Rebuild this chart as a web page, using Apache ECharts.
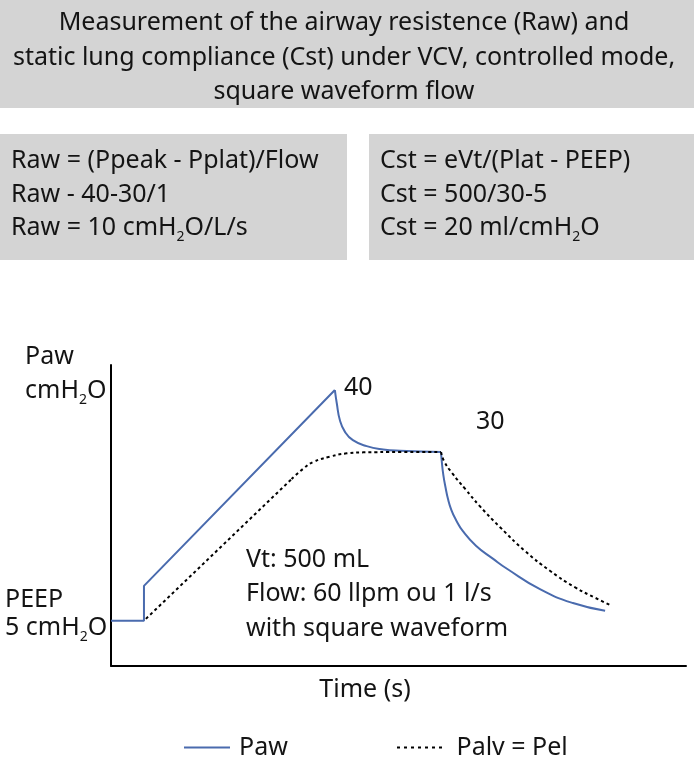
<!DOCTYPE html>
<html><head><meta charset="utf-8">
<script src="https://cdn.jsdelivr.net/npm/echarts@6/dist/echarts.min.js"></script>
<style>html,body{margin:0;padding:0;background:#fff}#c{width:694px;height:760px}</style>
</head><body><div id="c"></div>
<script>
// ---- text content ----
const titleLines = ['Measurement of the airway resistence (Raw) and', 'static lung compliance (Cst) under VCV, controlled mode,', 'square waveform flow'];
const rawLines = ['Raw = (Ppeak - Pplat)/Flow', 'Raw - 40-30/1', 'Raw = 10 cmH{sub|2}O/L/s'];
const cstLines = ['Cst = eVt/(Plat - PEEP)', 'Cst = 500/30-5', 'Cst = 20 ml/cmH{sub|2}O'];
const noteLines = ['Vt: 500 mL', 'Flow: 60 llpm ou 1 l/s', 'with square waveform'];
const yAxisLabel = ['Paw', 'cmH{sub|2}O'];
const peepLabel = ['PEEP', '5 cmH{sub|2}O'];
const peakLabel = '40';
const plateauLabel = '30';
const xAxisLabel = 'Time (s)';
const seriesNames = ['Paw', 'Palv = Pel'];
// ---- data: [time (s), pressure (cmH2O)] ----
const pawRise = [[0, 5], [0.086, 5], [0.086, 10.3], [0.584, 40]];
const pawPause = [[0.584, 40], [0.589, 38.0], [0.597, 35.45], [0.610, 33.7], [0.631, 32.4], [0.667, 31.5], [0.710, 31.0], [0.754, 30.8], [0.861, 30.6]];
const pawExp = [[0.861, 30.6], [0.863, 29.1], [0.867, 27.1], [0.873, 25.15], [0.879, 23.5], [0.888, 21.8], [0.900, 20.3], [0.918, 18.6], [0.952, 16.4], [0.997, 14.4], [1.033, 12.9], [1.119, 9.8], [1.205, 7.7], [1.289, 6.54]];
const palvRise = [[0.091, 5.3], [0.471, 26.5]];
const palvBend = [[0.471, 26.5], [0.502, 28.1], [0.528, 29.1], [0.571, 29.9], [0.615, 30.4], [0.658, 30.55], [0.754, 30.6], [0.861, 30.6]];
const palvExp = [[0.861, 30.6], [0.869, 29.2], [0.890, 27.4], [0.924, 25.0], [0.962, 22.4], [1.015, 19.2], [1.080, 15.6], [1.145, 12.6], [1.210, 10.1], [1.263, 8.5], [1.302, 7.4]];

const FONT = 'Noto Sans';
const FS = 25;
const BLUE = '#4a6bae';
const GRAY = '#d4d4d4';
const INK = '#141414';

const rich = { sub: { fontSize: 14, fontFamily: FONT, fill: INK, padding: [18, 0, 0, 0] } };
function txt(text, x, y, align) {
  return { type: 'text', x: x, y: y, silent: true,
    style: { text: text, fontSize: FS, fontFamily: FONT, fill: INK, align: align || 'left', verticalAlign: 'middle', rich: rich } };
}
const graphics = [
  { type: 'rect', shape: { x: 0, y: 0, width: 694, height: 108 }, style: { fill: GRAY }, silent: true },
  { type: 'rect', shape: { x: 0, y: 134, width: 347, height: 126 }, style: { fill: GRAY }, silent: true },
  { type: 'rect', shape: { x: 369, y: 134, width: 325, height: 126 }, style: { fill: GRAY }, silent: true }
];
titleLines.forEach((t, i) => graphics.push(txt(t, 344, 23 + i * 34.5, 'center')));
rawLines.forEach((t, i) => graphics.push(txt(t, 11, 161 + i * 33.5)));
cstLines.forEach((t, i) => graphics.push(txt(t, 380, 161 + i * 33.5)));
noteLines.forEach((t, i) => graphics.push(txt(t, 246, 559.5 + i * 34.5)));
graphics.push(txt(yAxisLabel[0], 25, 357));
graphics.push(txt(yAxisLabel[1], 25, 391));
graphics.push(txt(peepLabel[0], 5, 600));
graphics.push(txt(peepLabel[1], 5, 628));
graphics.push(txt(peakLabel, 344, 388));
graphics.push(txt(plateauLabel, 476, 422));
graphics.push(txt(xAxisLabel, 365, 690, 'center'));

function lineSeries(name, data, color, type, smooth) {
  return { type: 'line', name: name, data: data, showSymbol: false, symbol: 'none', smooth: smooth ? 0.5 : false,
    silent: true, animation: false,
    lineStyle: { color: color, width: 2, type: type }, itemStyle: { color: color } };
}
const dotIcon = 'path://M0,0h3v2h-3zM7,0h3v2h-3zM14,0h3v2h-3zM21,0h3v2h-3zM28,0h3v2h-3zM35,0h3v2h-3zM42,0h3v2h-3z';
const lineIcon = 'path://M0,0h46v2h-46z';

const chart = echarts.init(document.getElementById('c'), null, { renderer: 'canvas' });
chart.setOption({
  animation: false,
  backgroundColor: '#fff',
  grid: { left: 111, right: 8, top: 365, bottom: 94.3 },
  xAxis: { type: 'value', min: 0, max: 1.5, axisLine: { onZero: false, lineStyle: { color: '#000', width: 2 } },
    axisTick: { show: false }, axisLabel: { show: false }, splitLine: { show: false } },
  yAxis: { type: 'value', min: -1.8, max: 43.8, axisLine: { show: true, onZero: false, lineStyle: { color: '#000', width: 2 } },
    axisTick: { show: false }, axisLabel: { show: false }, splitLine: { show: false } },
  legend: [
    { data: [seriesNames[0]], icon: lineIcon, left: 184, top: 735, padding: 0, itemWidth: 46, itemHeight: 2, itemGap: 0,
      textStyle: { fontFamily: FONT, fontSize: FS, color: INK, padding: [0, 0, 0, 4] } },
    { data: [seriesNames[1]], icon: dotIcon, left: 397, top: 735, padding: 0, itemWidth: 46, itemHeight: 2, itemGap: 0,
      textStyle: { fontFamily: FONT, fontSize: FS, color: INK, padding: [0, 0, 0, 9] } }
  ],
  series: [
    lineSeries(seriesNames[0], pawRise, BLUE, 'solid', false),
    lineSeries(seriesNames[0], pawPause, BLUE, 'solid', true),
    lineSeries(seriesNames[0], pawExp, BLUE, 'solid', true),
    lineSeries(seriesNames[1], palvRise, '#000', [3, 3], false),
    lineSeries(seriesNames[1], palvBend, '#000', [3, 3], true),
    lineSeries(seriesNames[1], palvExp, '#000', [3, 3], true)
  ],
  graphic: graphics
});
</script></body></html>
